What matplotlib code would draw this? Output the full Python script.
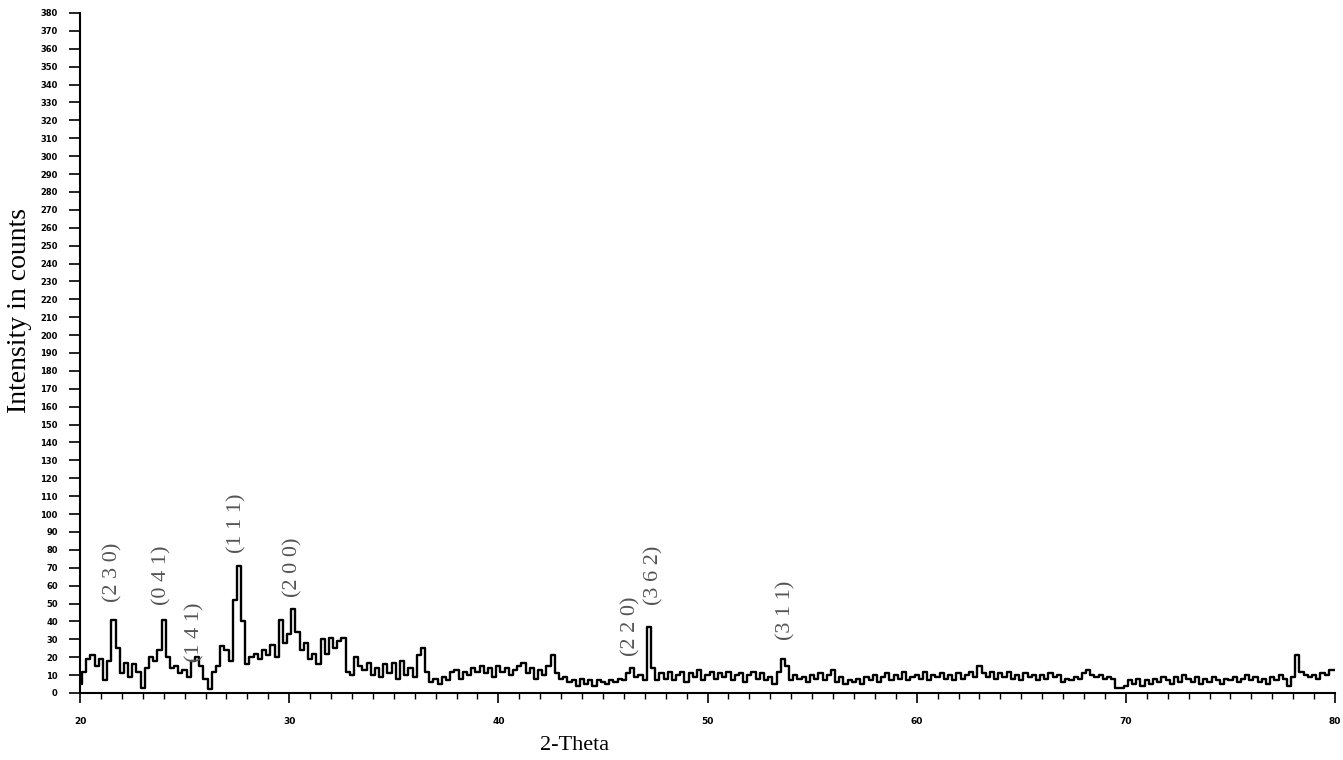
import numpy as np
import matplotlib
matplotlib.use("Agg")
import matplotlib.pyplot as plt
from matplotlib.ticker import MultipleLocator

# ---- data ----
two_theta_start = 20.0
two_theta_step = 0.2
intensity = [
    5, 12, 19, 21, 15, 19, 7, 18, 41, 25,
    11, 17, 9, 16, 12, 3, 14, 20, 18, 24,
    41, 20, 14, 15, 11, 13, 9, 18, 20, 15,
    8, 2, 12, 15, 26, 24, 18, 52, 71, 40,
    16, 20, 22, 19, 24, 21, 27, 20, 41, 28,
    33, 47, 34, 24, 28, 19, 22, 16, 30, 22,
    31, 25, 29, 31, 12, 10, 20, 15, 13, 17,
    10, 14, 9, 16, 11, 17, 8, 18, 10, 14,
    9, 21, 25, 12, 6, 8, 5, 9, 7, 12,
    13, 8, 12, 10, 14, 12, 15, 11, 14, 9,
    15, 12, 14, 10, 13, 15, 17, 11, 14, 8,
    13, 10, 15, 21, 11, 8, 9, 6, 7, 4,
    8, 5, 7, 4, 7, 6, 5, 7, 6, 8,
    7, 11, 14, 9, 10, 7, 37, 14, 7, 11,
    8, 12, 7, 10, 12, 6, 11, 9, 13, 7,
    10, 12, 8, 11, 9, 12, 7, 10, 11, 6,
    10, 12, 8, 11, 7, 9, 5, 12, 19, 15,
    7, 10, 8, 9, 6, 10, 8, 11, 7, 10,
    13, 6, 9, 5, 7, 6, 8, 5, 9, 7,
    10, 6, 9, 11, 7, 10, 8, 12, 7, 9,
    10, 8, 12, 7, 10, 9, 11, 8, 10, 7,
    11, 8, 10, 12, 9, 15, 11, 9, 12, 8,
    11, 9, 12, 8, 10, 7, 11, 9, 10, 7,
    10, 8, 11, 9, 10, 6, 8, 7, 9, 8,
    11, 13, 10, 9, 10, 8, 9, 8, 3, 3,
    4, 7, 5, 8, 4, 7, 5, 8, 6, 9,
    7, 5, 9, 6, 10, 8, 6, 9, 5, 8,
    6, 9, 7, 5, 8, 7, 9, 6, 8, 10,
    7, 9, 6, 8, 5, 9, 7, 10, 8, 4,
    9, 21, 12, 10, 9, 10, 8, 11, 10, 13,
    13,
]
peak_labels = ["(2 3 0)", "(0 4 1)", "(1 4 1)", "(1 1 1)", "(2 0 0)",
               "(2 2 0)", "(3 6 2)", "(3 1 1)"]
peak_label_x = [21.55, 23.9, 25.5, 27.5, 30.2, 46.35, 47.45, 53.75]
peak_label_y = [67.7, 66.0, 34.0, 94.6, 70.0, 37.5, 65.5, 46.0]
x_ticks = [20, 30, 40, 50, 60, 70, 80]
y_ticks = list(range(0, 381, 10))

two_theta = two_theta_start + two_theta_step * np.arange(len(intensity))

fig = plt.figure(figsize=(13.43, 7.6), dpi=100)
ax = fig.add_axes([80 / 1343, 67 / 760, 1255 / 1343, 680 / 760])

ax.plot(two_theta, intensity, color="black", lw=1.7, drawstyle="steps-mid")

ax.set_xlim(20, 80)
ax.set_ylim(0, 380)
ax.spines["top"].set_visible(False)
ax.spines["right"].set_visible(False)
ax.spines["left"].set_linewidth(1.5)
ax.spines["bottom"].set_linewidth(1.5)

ax.set_xticks(x_ticks)
ax.set_xticklabels([str(v) for v in x_ticks], fontsize=6.5, fontweight="bold")
ax.xaxis.set_minor_locator(MultipleLocator(1))
ax.set_yticks(y_ticks)
ax.set_yticklabels([str(v) for v in y_ticks], fontsize=6, fontweight="bold")
ax.tick_params(axis="y", which="major", direction="out", length=8, width=1.2, pad=8)
ax.tick_params(axis="x", which="major", direction="out", length=7, width=1.2, pad=10)
ax.tick_params(axis="x", which="minor", direction="out", length=4, width=1.0)

for lab, px, py in zip(peak_labels, peak_label_x, peak_label_y):
    ax.text(px, py, lab, rotation=90, ha="center", va="center",
            fontsize=16, family="Liberation Serif", color="#555555")

fig.text(575 / 1343, 1 - 745 / 760, "2-Theta", ha="center", va="center",
         fontsize=16, family="Liberation Serif")
fig.text(20 / 1343, 1 - 310 / 760, "Intensity in counts", ha="center", va="center",
         rotation=90, fontsize=20, family="Liberation Serif")

fig.savefig("out.png", dpi=100)
